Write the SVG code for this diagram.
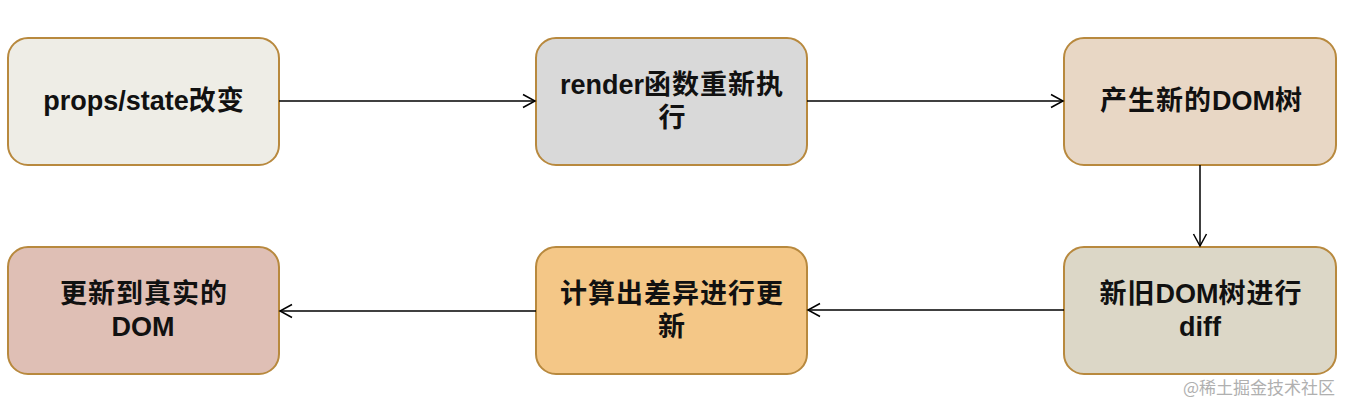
<svg xmlns="http://www.w3.org/2000/svg" width="1349" height="403" viewBox="0 0 1349 403">
<style>
.box{stroke:#B8893E;stroke-width:2}
.t{font-family:"Liberation Sans","Noto Sans CJK SC",sans-serif;font-size:27px;font-weight:bold;fill:#111;text-anchor:middle;dominant-baseline:central}
.k{letter-spacing:1px}
.c{fill:none;stroke:#000;stroke-width:1.5}
.wm{font-family:"Noto Sans CJK SC",serif;font-size:17px;fill:#b0b0b0}
</style>
<defs>
<marker id="arr" markerWidth="16" markerHeight="16" refX="13" refY="8" orient="auto" markerUnits="userSpaceOnUse">
<path d="M1,1.5 L13,8 L1,14.5" fill="none" stroke="#000" stroke-width="1.5"/>
</marker>
</defs>
<rect width="1349" height="403" fill="#fff"/>
<g id="n1"><rect class="box" x="8" y="38" width="271" height="127" rx="20" fill="#EEEDE6"/><text class="t" x="144" y="101">props/state<tspan class="k">改变</tspan></text></g>
<g id="n2"><rect class="box" x="536" y="38" width="271" height="127" rx="20" fill="#D9D9D9"/><text class="t"><tspan x="672" y="85">render<tspan class="k">函数重新执</tspan></tspan><tspan x="672" y="118">行</tspan></text></g>
<g id="n3"><rect class="box" x="1064" y="38" width="272" height="127" rx="20" fill="#E8D7C5"/><text class="t" x="1201" y="101"><tspan class="k">产生新的</tspan>DOM树</text></g>
<g id="n4"><rect class="box" x="1064" y="247" width="272" height="127" rx="20" fill="#DCD7C7"/><text class="t"><tspan x="1201" y="294"><tspan class="k">新旧</tspan>DOM<tspan class="k">树进行</tspan></tspan><tspan x="1200" y="327">diff</tspan></text></g>
<g id="n5"><rect class="box" x="536" y="247" width="271" height="127" rx="20" fill="#F4C787"/><text class="t k"><tspan x="672" y="294">计算出差异进行更</tspan><tspan x="672" y="327">新</tspan></text></g>
<g id="n6"><rect class="box" x="8" y="247" width="271" height="127" rx="20" fill="#DFBFB5"/><text class="t"><tspan class="k" x="144" y="294">更新到真实的</tspan><tspan x="143" y="327">DOM</tspan></text></g>
<g id="connectors">
<line class="c" x1="279" y1="101" x2="535" y2="101" marker-end="url(#arr)"/>
<line class="c" x1="807" y1="101" x2="1063" y2="101" marker-end="url(#arr)"/>
<line class="c" x1="1200" y1="165" x2="1200" y2="246" marker-end="url(#arr)"/>
<line class="c" x1="1064" y1="310" x2="808" y2="310" marker-end="url(#arr)"/>
<line class="c" x1="536" y1="311" x2="280" y2="311" marker-end="url(#arr)"/>
</g>
<text class="wm" x="1183" y="394">@稀土掘金技术社区</text>
</svg>
